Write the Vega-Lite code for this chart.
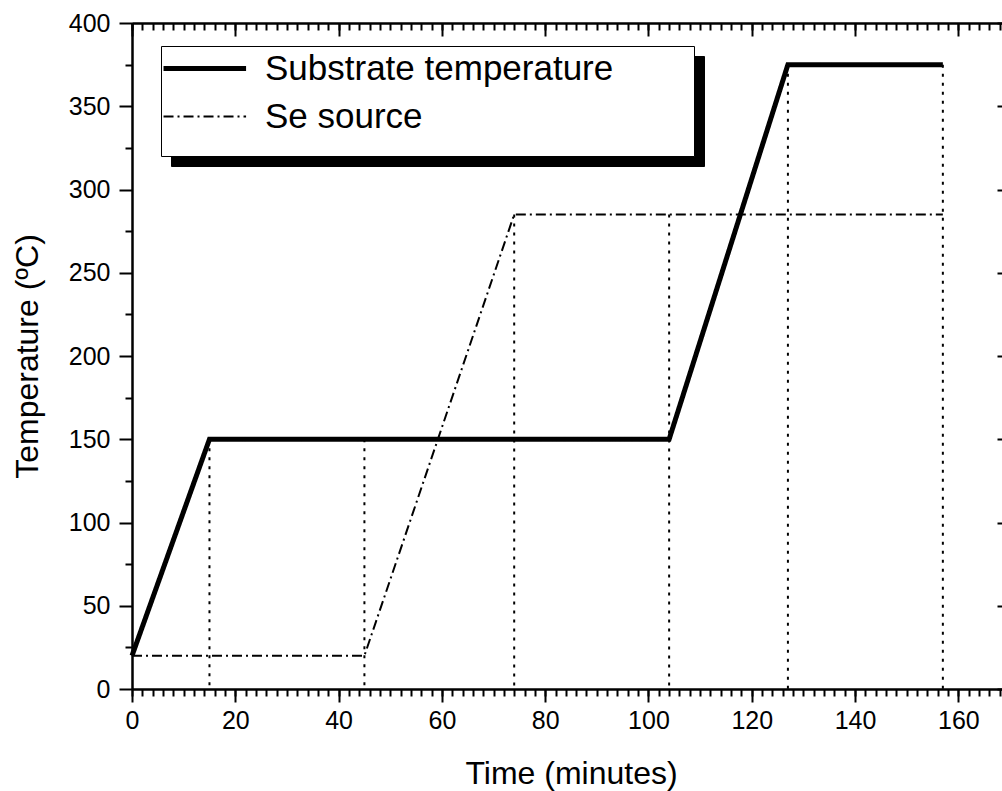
{
  "$schema": "https://vega.github.io/schema/vega-lite/v6.json",
  "autosize": {"type": "none"},
  "padding": {"left": 132, "top": 23, "right": 0, "bottom": 102},
  "width": 878,
  "height": 666,
  "config": {
    "font": "Liberation Sans",
    "view": {"stroke": null},
    "axis": {"grid": false, "domainColor": "black", "tickColor": "black", "labelColor": "black", "titleColor": "black", "domainWidth": 2, "tickWidth": 2, "titleFontWeight": "normal", "labelFlush": false, "labelOverlap": false}
  },
  "datasets": {
    "lines": [
      {"series": "Substrate temperature", "t": 0, "temp": 20},
      {"series": "Substrate temperature", "t": 15, "temp": 150},
      {"series": "Substrate temperature", "t": 104, "temp": 150},
      {"series": "Substrate temperature", "t": 127, "temp": 375},
      {"series": "Substrate temperature", "t": 157, "temp": 375},
      {"series": "Se source", "t": 0, "temp": 20},
      {"series": "Se source", "t": 45, "temp": 20},
      {"series": "Se source", "t": 74, "temp": 285},
      {"series": "Se source", "t": 157, "temp": 285}
    ],
    "rules": [
      {"t": 15, "top": 150},
      {"t": 45, "top": 150},
      {"t": 74, "top": 285},
      {"t": 104, "top": 285},
      {"t": 127, "top": 375},
      {"t": 157, "top": 375}
    ]
  },
  "resolve": {"axis": {"x": "independent", "y": "independent"}},
  "layer": [
    {
      "data": {"name": "rules"},
      "transform": [{"filter": "datum.t < 100"}],
      "mark": {"type": "rule", "color": "black", "strokeWidth": 2, "strokeDash": [3, 6]},
      "encoding": {
        "x": {"field": "t", "type": "quantitative", "scale": {"domain": [0, 170], "nice": false},
          "axis": {"orient": "bottom", "values": [0,2,4,6,8,10,12,14,16,18,20,22,24,26,28,30,32,34,36,38,40,42,44,46,48,50,52,54,56,58,60,62,64,66,68,70,72,74,76,78,80,82,84,86,88,90,92,94,96,98,100,102,104,106,108,110,112,114,116,118,120,122,124,126,128,130,132,134,136,138,140,142,144,146,148,150,152,154,156,158,160,162,164,166,168,170], "tickSize": 7, "labels": false, "title": null}},
        "y": {"field": "top", "type": "quantitative", "scale": {"domain": [0, 400], "nice": false},
          "axis": {"orient": "left", "values": [25, 75, 125, 175, 225, 275, 325, 375], "tickSize": 7, "labels": false, "title": null}},
        "y2": {"datum": 0}
      }
    },
    {
      "data": {"name": "rules"},
      "transform": [{"filter": "datum.t > 100"}],
      "mark": {"type": "rule", "color": "black", "strokeWidth": 2, "strokeDash": [3, 6]},
      "encoding": {
        "x": {"field": "t", "type": "quantitative", "scale": {"domain": [0, 170], "nice": false},
          "axis": {"orient": "top", "values": [0,2,4,6,8,10,12,14,16,18,20,22,24,26,28,30,32,34,36,38,40,42,44,46,48,50,52,54,56,58,60,62,64,66,68,70,72,74,76,78,80,82,84,86,88,90,92,94,96,98,100,102,104,106,108,110,112,114,116,118,120,122,124,126,128,130,132,134,136,138,140,142,144,146,148,150,152,154,156,158,160,162,164,166,168,170], "tickSize": -7, "labels": false, "title": null}},
        "y": {"field": "top", "type": "quantitative", "scale": {"domain": [0, 400], "nice": false},
          "axis": {"orient": "right", "values": [25, 75, 125, 175, 225, 275, 325, 375], "tickSize": -7, "labels": false, "title": null}},
        "y2": {"datum": 0}
      }
    },
    {
      "data": {"name": "lines"},
      "transform": [{"filter": "datum.series == 'Se source'"}],
      "mark": {"type": "line", "color": "black"},
      "encoding": {
        "x": {"field": "t", "type": "quantitative", "scale": {"domain": [0, 170], "nice": false},
          "axis": {"orient": "top", "values": [0, 20, 40, 60, 80, 100, 120, 140, 160], "tickSize": -13, "labels": false, "title": null}},
        "y": {"field": "temp", "type": "quantitative", "scale": {"domain": [0, 400], "nice": false},
          "axis": {"orient": "right", "values": [0, 50, 100, 150, 200, 250, 300, 350, 400], "tickSize": -13, "labels": false, "title": null}},
        "strokeDash": {"field": "series", "type": "nominal",
          "scale": {"domain": ["Substrate temperature", "Se source"], "range": [[1, 0], [10, 4, 2, 4]]},
          "legend": {"orient": "none", "legendX": 29, "legendY": 23, "title": " ", "titleOrient": "bottom", "titleFontSize": 10, "titlePadding": 6, "padding": 5, "fillColor": "white", "strokeColor": "black", "labelFontSize": 35, "labelColor": "black", "labelLimit": 900, "labelOffset": 42.7, "symbolOffset": 21.3, "symbolSize": 169, "symbolType": "M-6.35,0H6.35", "symbolStrokeColor": "black", "rowPadding": 12, "zindex": 2, "labelExpr": "datum.label + '\u00a0\u00a0\u00a0\u00a0\u00a0\u00a0\u00a0\u2009\u200b'"}},
        "strokeWidth": {"field": "series", "type": "nominal",
          "scale": {"domain": ["Substrate temperature", "Se source"], "range": [5, 2]},
          "legend": {"orient": "none", "legendX": 29, "legendY": 23, "title": " ", "titleOrient": "bottom", "titleFontSize": 10, "titlePadding": 6, "padding": 5, "fillColor": "white", "strokeColor": "black", "labelFontSize": 35, "labelColor": "black", "labelLimit": 900, "labelOffset": 42.7, "symbolOffset": 21.3, "symbolSize": 169, "symbolType": "M-6.35,0H6.35", "symbolStrokeColor": "black", "rowPadding": 12, "zindex": 2, "labelExpr": "datum.label + '\u00a0\u00a0\u00a0\u00a0\u00a0\u00a0\u00a0\u2009\u200b'"}},
        "opacity": {"field": "series", "type": "nominal",
          "scale": {"range": [1, 1]},
          "legend": {"orient": "none", "legendX": 39, "legendY": 33, "title": " ", "titleOrient": "bottom", "titleFontSize": 10, "titlePadding": 6, "padding": 5, "fillColor": "black", "strokeColor": "black", "labelFontSize": 35, "labelColor": "black", "labelLimit": 900, "labelOffset": 42.7, "symbolOffset": 21.3, "symbolSize": 169, "symbolType": "M-6.35,0H6.35", "symbolStrokeColor": "black", "rowPadding": 12, "zindex": 1, "labelExpr": "datum.label + '\u00a0\u00a0\u00a0\u00a0\u00a0\u00a0\u00a0\u2009\u200b'"}}
      }
    },
    {
      "data": {"name": "lines"},
      "transform": [{"filter": "datum.series == 'Substrate temperature'"}],
      "mark": {"type": "line", "color": "black"},
      "encoding": {
        "x": {"field": "t", "type": "quantitative", "scale": {"domain": [0, 170], "nice": false},
          "axis": {"orient": "bottom", "values": [0, 20, 40, 60, 80, 100, 120, 140, 160], "tickSize": 13, "labelFontSize": 25, "labelPadding": 6, "title": "Time (minutes)", "titleFontSize": 32, "titlePadding": 25}},
        "y": {"field": "temp", "type": "quantitative", "scale": {"domain": [0, 400], "nice": false},
          "axis": {"orient": "left", "values": [0, 50, 100, 150, 200, 250, 300, 350, 400], "tickSize": 13, "labelFontSize": 25, "labelPadding": 9, "title": "Temperature (ºC)", "titleFontSize": 32, "titlePadding": 24}},
        "strokeDash": {"field": "series", "type": "nominal",
          "scale": {"domain": ["Substrate temperature", "Se source"], "range": [[1, 0], [10, 4, 2, 4]]},
          "legend": {"orient": "none", "legendX": 29, "legendY": 23, "title": " ", "titleOrient": "bottom", "titleFontSize": 10, "titlePadding": 6, "padding": 5, "fillColor": "white", "strokeColor": "black", "labelFontSize": 35, "labelColor": "black", "labelLimit": 900, "labelOffset": 42.7, "symbolOffset": 21.3, "symbolSize": 169, "symbolType": "M-6.35,0H6.35", "symbolStrokeColor": "black", "rowPadding": 12, "zindex": 2, "labelExpr": "datum.label + '\u00a0\u00a0\u00a0\u00a0\u00a0\u00a0\u00a0\u2009\u200b'"}},
        "strokeWidth": {"field": "series", "type": "nominal",
          "scale": {"domain": ["Substrate temperature", "Se source"], "range": [5, 2]},
          "legend": {"orient": "none", "legendX": 29, "legendY": 23, "title": " ", "titleOrient": "bottom", "titleFontSize": 10, "titlePadding": 6, "padding": 5, "fillColor": "white", "strokeColor": "black", "labelFontSize": 35, "labelColor": "black", "labelLimit": 900, "labelOffset": 42.7, "symbolOffset": 21.3, "symbolSize": 169, "symbolType": "M-6.35,0H6.35", "symbolStrokeColor": "black", "rowPadding": 12, "zindex": 2, "labelExpr": "datum.label + '\u00a0\u00a0\u00a0\u00a0\u00a0\u00a0\u00a0\u2009\u200b'"}},
        "opacity": {"field": "series", "type": "nominal",
          "scale": {"range": [1, 1]},
          "legend": {"orient": "none", "legendX": 39, "legendY": 33, "title": " ", "titleOrient": "bottom", "titleFontSize": 10, "titlePadding": 6, "padding": 5, "fillColor": "black", "strokeColor": "black", "labelFontSize": 35, "labelColor": "black", "labelLimit": 900, "labelOffset": 42.7, "symbolOffset": 21.3, "symbolSize": 169, "symbolType": "M-6.35,0H6.35", "symbolStrokeColor": "black", "rowPadding": 12, "zindex": 1, "labelExpr": "datum.label + '\u00a0\u00a0\u00a0\u00a0\u00a0\u00a0\u00a0\u2009\u200b'"}}
      }
    }
  ]
}
